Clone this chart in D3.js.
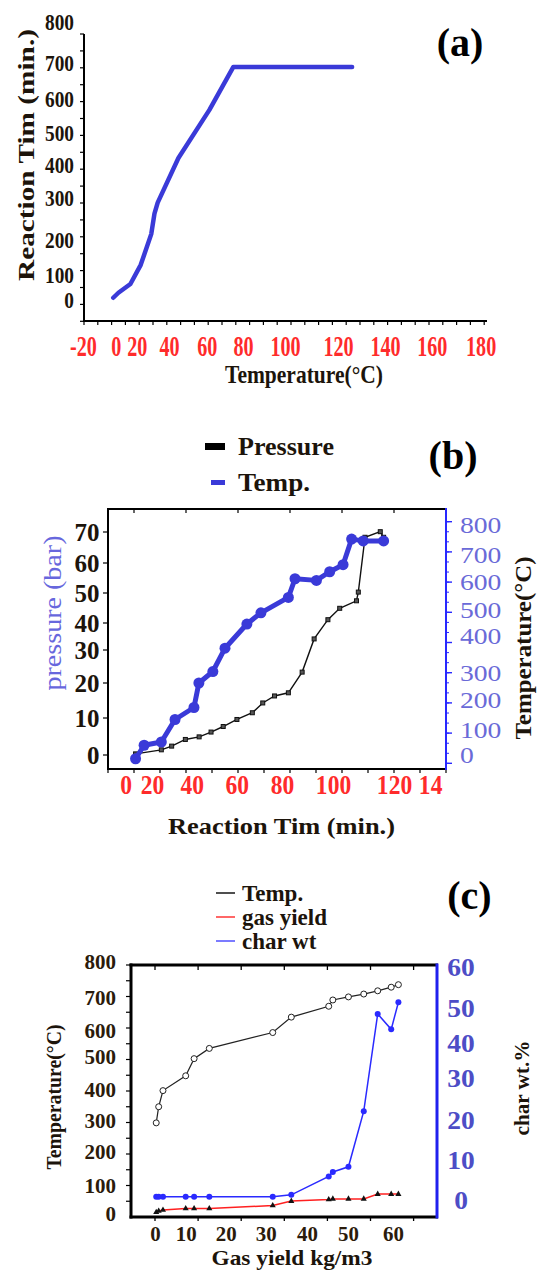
<!DOCTYPE html>
<html lang="en">
<head>
<meta charset="utf-8">
<title>Reaction time, pressure and gas yield</title>
<script src="https://cdn.jsdelivr.net/npm/d3@7"></script>
<style>
  body { margin: 0; background: #fff; }
  svg { display: block; }
</style>
</head>
<body>
<svg id="chart" width="538" height="1270"></svg>
<script>
// ---- panel (a): reaction time vs temperature
var aTicksX = [-20, 0, 20, 40, 60, 80, 100, 120, 140, 160, 180];
var aTicksY = [0, 100, 200, 300, 400, 500, 600, 700, 800];
var aTemp = [-1.5, 2.6, 14, 22.5, 29, 31, 33, 45, 61.5, 74.7, 126];
var aTime = [9, 29, 64, 129, 214, 263, 289, 422, 568, 689, 689];

// ---- panel (b): pressure and temperature vs reaction time
var bTicksX = [0, 20, 40, 60, 80, 100, 120, 140];
var bTicksP = [0, 10, 20, 30, 40, 50, 60, 70];
var bTicksT = [0, 100, 200, 300, 400, 500, 600, 700, 800];
var bTimeP = [7.5, 24.7, 29.9, 36.8, 43.3, 48.6, 54, 60.1, 66.9, 71.5, 76.7, 82.5, 87.9, 92.6, 98, 102.2, 107.7, 108.3, 110.5, 115.5, 116.6];
var bPress = [0.3, 1.4, 2.4, 4.2, 4.9, 6.2, 7.7, 9.6, 11.5, 14.3, 16.3, 17.2, 23.3, 34.1, 41.1, 44.9, 47.4, 50.3, 68.3, 70.1, 68.3];
var bTimeT = [7.5, 14, 24.7, 31.6, 41, 43.2, 49.4, 54.8, 64.5, 70.7, 82.5, 85.1, 93.5, 98.7, 103.3, 106.1, 109.9, 116.6];
var bTemp = [-15, 39, 52, 135, 175, 263, 304, 367, 446, 489, 545, 612, 606, 638, 664, 753, 747, 747];

// ---- panel (c): temperature, gas yield and char wt vs gas yield
var cTicksX = [0, 10, 20, 30, 40, 50, 60];
var cTicksT = [0, 100, 200, 300, 400, 500, 600, 700, 800];
var cTicksC = [0, 10, 20, 30, 40, 50, 60];
var cGas = [0.4, 1.2, 2.6, 10, 12.1, 15.9, 31.7, 36.2, 45.3, 46.3, 50.1, 53.5, 56.6, 59.6, 61.2];
var cTemp = [294, 346, 398, 443, 495, 533, 594, 642, 675, 694, 703, 711, 720, 730, 737];
var cYield = [6, 11, 14, 20, 20, 20, 30, 46, 52, 54, 54, 54, 71, 71, 71];
var cChar = [0.8, 0.8, 0.8, 0.8, 0.8, 0.8, 0.8, 1.3, 5.9, 7.0, 8.3, 22.1, 48.3, 43.9, 51.4];

var serif = '"Liberation Serif", "Times New Roman", serif';
var dark = "#1c140b";
var red = "#ff2b2b";
var blue = "#3a3ad8";

var svg = d3.select("#chart");

// squeeze text horizontally like the stretched original
function squeeze(sel, k) {
  sel.each(function () {
    var w = this.getComputedTextLength();
    d3.select(this).attr("textLength", w * k).attr("lengthAdjust", "spacingAndGlyphs");
  });
}

function styleText(sel, size, color, weight) {
  sel.attr("font-family", serif).attr("font-size", size)
    .attr("font-weight", weight).attr("fill", color);
}

function labelAxis(g, axis, size, color, weight, k) {
  g.call(axis.tickSize(0).tickFormat(function (d) { return String(d); }));
  g.select(".domain").remove();
  styleText(g.selectAll("text"), size, color, weight);
  if (k) squeeze(g.selectAll("text"), k);
}

function text(x, y, str, size, color, weight, len, rotate) {
  var t = svg.append("text")
    .attr("transform", "translate(" + x + "," + y + ")" + (rotate ? " rotate(-90)" : ""))
    .attr("text-anchor", "middle").attr("dy", "0.35em").text(str);
  styleText(t, size, color, weight);
  if (len) t.attr("textLength", len).attr("lengthAdjust", "spacingAndGlyphs");
  return t;
}

function line(x1, y1, x2, y2, color, w) {
  svg.append("line").attr("x1", x1).attr("y1", y1).attr("x2", x2).attr("y2", y2)
    .attr("stroke", color).attr("stroke-width", w);
}

// ================= panel (a)
var ax = d3.scaleLinear().domain(aTicksX).range([83, 115.7, 136.7, 169, 206.7, 243, 285, 338, 385, 431.7, 480.6]);
var ay = d3.scaleLinear().domain(aTicksY).range([300, 275, 240, 198, 165, 133, 99, 63, 22]);

d3.range(84, 487, 13.8).forEach(function (v) { line(v, 321, v, 325, "#000", 1.2); });
d3.range(34, 322, 16.9).forEach(function (v) { line(80, v, 84, v, "#000", 1.2); });
line(84, 34, 84, 322, "#000", 2);
line(83, 321, 487, 321, "#000", 2);

var gax = svg.append("g").attr("transform", "translate(0,321)");
labelAxis(gax, d3.axisBottom(ax).tickValues(aTicksX), 30, red, "bold", 0.67);
gax.selectAll("text").attr("y", 24).attr("dy", "0.35em");

var gay = svg.append("g").attr("transform", "translate(84,0)");
labelAxis(gay, d3.axisLeft(ay).tickValues(aTicksY).tickPadding(10), 23, dark, "bold", 0.84);

svg.append("path").datum(aTemp)
  .attr("fill", "none").attr("stroke", blue).attr("stroke-width", 4.5)
  .attr("stroke-linejoin", "round").attr("stroke-linecap", "round")
  .attr("d", d3.line().x(function (d) { return ax(d); }).y(function (d, i) { return ay(aTime[i]); }));

text(26, 155, "Reaction Tim (min.)", 23, dark, "bold", 252, true);
text(304, 374, "Temperature(°C)", 26, dark, "bold", 158);
text(460, 42, "(a)", 40, "#000", "bold");

// ================= panel (b)
var bx = d3.scaleLinear().domain(bTicksX).range([125.7, 152, 191.7, 236.7, 282, 333, 394, 436]);
var bp = d3.scaleLinear().domain(bTicksP).range([755, 718, 683, 650, 623, 593, 563, 532]);
var bt = d3.scaleLinear().domain(bTicksT).range([755, 730, 700, 673, 636, 610, 582, 555, 525]);

d3.range(108, 447, 26).forEach(function (v) { line(v, 769, v, 773, "#000", 1.2); });
d3.range(134, 430, 52).forEach(function (v) { line(v, 509, v, 513, "#000", 1.2); });
d3.range(521.7, 769, 10.07).forEach(function (v) { line(446, v, 449, v, "#2828ff", 1); });
d3.range(521.7, 769, 30.2).forEach(function (v) { line(446, v, 452, v, "#2828ff", 1.4); });
bTicksP.forEach(function (v) { line(103, bp(v), 108, bp(v), "#000", 1.2); });
line(108, 509, 446, 509, "#000", 2);
line(108, 769, 446, 769, "#000", 2);
line(108, 508, 108, 770, "#000", 2);
line(446, 508, 446, 770, "#2828ff", 2);

// the 140 label is cut at the right edge as in the original
svg.append("clipPath").attr("id", "bclip").append("rect")
  .attr("x", 0).attr("y", -60).attr("width", 443).attr("height", 120);
var gbx = svg.append("g").attr("transform", "translate(0,769)").attr("clip-path", "url(#bclip)");
labelAxis(gbx, d3.axisBottom(bx).tickValues(bTicksX), 28, red, "bold", 0.84);
gbx.selectAll("text").attr("y", 15).attr("dy", "0.35em");

var gbp = svg.append("g").attr("transform", "translate(108,0)");
labelAxis(gbp, d3.axisLeft(bp).tickValues(bTicksP).tickPadding(8.5), 25, dark, "bold");

var gbt = svg.append("g").attr("transform", "translate(446,0)");
labelAxis(gbt, d3.axisRight(bt).tickValues(bTicksT).tickPadding(14), 24, "#6a6ad8", "normal", 1.15);

// pressure (black)
svg.append("path").datum(bTimeP)
  .attr("fill", "none").attr("stroke", "#111").attr("stroke-width", 1.4)
  .attr("d", d3.line().x(function (d) { return bx(d); }).y(function (d, i) { return bp(bPress[i]); }));
svg.append("g").selectAll("rect").data(bTimeP).join("rect")
  .attr("x", function (d) { return bx(d) - 2; })
  .attr("y", function (d, i) { return bp(bPress[i]) - 2; })
  .attr("width", 4).attr("height", 4)
  .attr("fill", "#555").attr("stroke", "#111").attr("stroke-width", 1);

// temperature (blue)
svg.append("path").datum(bTimeT)
  .attr("fill", "none").attr("stroke", blue).attr("stroke-width", 5)
  .attr("stroke-linejoin", "round")
  .attr("d", d3.line().x(function (d) { return bx(d); }).y(function (d, i) { return bt(bTemp[i]); }));
svg.append("g").selectAll("circle").data(bTimeT).join("circle")
  .attr("cx", function (d) { return bx(d); })
  .attr("cy", function (d, i) { return bt(bTemp[i]); })
  .attr("r", 5.5).attr("fill", blue);

// legend (b)
svg.append("rect").attr("x", 205).attr("y", 443).attr("width", 20).attr("height", 7).attr("fill", "#000");
svg.append("rect").attr("x", 211).attr("y", 480).attr("width", 14).attr("height", 5).attr("fill", blue);
text(286, 446, "Pressure", 26, dark, "bold", 96);
text(274, 482, "Temp.", 26, dark, "bold", 72);
text(453, 455, "(b)", 40, "#000", "bold");

text(52, 613, "pressure (bar)", 26, "#6767dd", "normal", 155, true);
text(523, 648, "Temperature(°C)", 24, dark, "bold", 183, true);
text(281.5, 826, "Reaction Tim (min.)", 24, dark, "bold", 227);

// ================= panel (c)
var cx = d3.scaleLinear().domain(cTicksX).range([155, 185.7, 225.7, 265.7, 307, 348, 393]);
var cl = d3.scaleLinear().domain(cTicksT).range([1214, 1186, 1152, 1121, 1090, 1057, 1031, 998, 962]);
var cr = d3.scaleLinear().domain(cTicksC).range([1200, 1160, 1120, 1078, 1043, 1008, 967]);

d3.range(155, 420, 43.1).forEach(function (v) {
  line(v, 965, v, 970, "#000", 1.3);
  line(v, 1217, v, 1221, "#000", 1.3);
});
d3.range(965, 1217, 15.75).forEach(function (v) { line(126, v, 131, v, "#000", 1.2); });
line(129.5, 965, 438, 965, "#000", 3);
line(129.5, 1217, 438, 1217, "#000", 3);
line(131, 963.5, 131, 1218.5, "#000", 3);
line(437, 963.5, 437, 1218.5, "#2020ee", 3);

var gcx = svg.append("g").attr("transform", "translate(0,1217)");
labelAxis(gcx, d3.axisBottom(cx).tickValues(cTicksX), 22, "#2b1b0b", "bold", 0.95);
gcx.selectAll("text").attr("y", 16).attr("dy", "0.35em");

var gcl = svg.append("g").attr("transform", "translate(131,0)");
labelAxis(gcl, d3.axisLeft(cl).tickValues(cTicksT).tickPadding(15), 21, "#2b1b0b", "bold");

var gcr = svg.append("g").attr("transform", "translate(437,0)");
labelAxis(gcr, d3.axisRight(cr).tickValues(cTicksC).tickPadding(24), 25, "#4d4dc6", "bold", 1.1);
gcr.selectAll("text").attr("text-anchor", "middle");

function seriesLine(ys, scale, color, w) {
  svg.append("path").datum(cGas)
    .attr("fill", "none").attr("stroke", color).attr("stroke-width", w)
    .attr("d", d3.line().x(function (d) { return cx(d); }).y(function (d, i) { return scale(ys[i]); }));
}

seriesLine(cTemp, cl, "#222", 1.2);
seriesLine(cYield, cl, "#ff2020", 1.5);
seriesLine(cChar, cr, "#2a2aff", 1.5);

svg.append("g").selectAll("circle").data(cGas).join("circle")
  .attr("cx", function (d) { return cx(d); })
  .attr("cy", function (d, i) { return cl(cTemp[i]); })
  .attr("r", 3).attr("fill", "#fff").attr("stroke", "#222").attr("stroke-width", 1);
svg.append("g").selectAll("path").data(cGas).join("path")
  .attr("transform", function (d, i) { return "translate(" + cx(d) + "," + cl(cYield[i]) + ")"; })
  .attr("d", d3.symbol(d3.symbolTriangle, 16))
  .attr("fill", "#111");
svg.append("g").selectAll("circle").data(cGas).join("circle")
  .attr("cx", function (d) { return cx(d); })
  .attr("cy", function (d, i) { return cr(cChar[i]); })
  .attr("r", 3).attr("fill", "#2a2aff");

// legend (c)
var cLegend = [["Temp.", "#222"], ["gas yield", "#ff4040"], ["char wt", "#5a5aff"]];
cLegend.forEach(function (d, i) {
  var y = 893 + i * 24;
  line(216, y, 235, y, d[1], 1.6);
  styleText(svg.append("text").attr("x", 242).attr("y", y).attr("dy", "0.35em").text(d[0]), 23, dark, "bold");
});
text(469.5, 895, "(c)", 40, "#000", "bold");

text(54, 1097, "Temperature(°C)", 21, dark, "bold", 145, true);
text(521, 1088, "char wt.%", 22, dark, "bold", 95, true);
styleText(svg.append("text").attr("x", 292).attr("y", 1265).attr("text-anchor", "middle")
  .attr("textLength", 161).attr("lengthAdjust", "spacingAndGlyphs").text("Gas yield kg/m3"), 21, dark, "bold");
</script>
</body>
</html>
